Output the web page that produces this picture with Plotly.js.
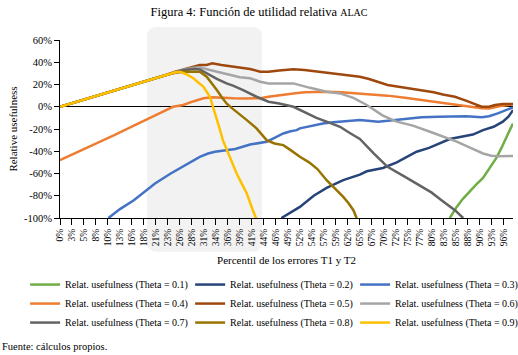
<!DOCTYPE html>
<html><head><meta charset="utf-8">
<script src="https://cdn.plot.ly/plotly-3.0.1.min.js"></script>
<style>html,body{margin:0;padding:0;background:#fff}#chart{width:518px;height:355px}</style>
</head><body><div id="chart"></div>
<script>
// Tick labels of the percentile axis
const xTickLabels = ['0%','3%','5%','8%','10%','13%','16%','18%','21%','23%','26%','28%','31%','34%','36%','39%','41%','44%','46%','49%','52%','54%','57%','59%','62%','65%','67%','70%','72%','75%','77%','80%','83%','85%','88%','90%','93%','96%'];
const xTickStep = 2.6;
const yTickVals = [60,40,20,0,-20,-40,-60,-80,-100];
const yTickText = ['60%','40%','20%','0%','-20%','-40%','-60%','-80%','-100%'];

// shared rising segment (Theta 0.5 - 0.9)
const risingX = [0,4,8,12,16,20,23];
const risingY = [0,5,10,14.5,19.5,25,28.5];

const theta01X = [84.5,86,87.3,88.8,90.2,91.7,93.2,94.6,95.7,96.8,97.5,98.2];
const theta01Y = [-100,-90,-83,-76,-70,-64,-55,-46,-37,-28,-21,-15];

const theta02X = [48,50,52,55,57.8,61.4,65,66.5,70,73,77.3,80,84.5,87,89.5,91.7,94,96,97.2,98.2];
const theta02Y = [-100,-95,-90,-80,-73,-66,-61,-58,-55,-50,-40.4,-37,-29,-27,-25,-21,-18,-13.4,-9,-3];

const theta03X = [10.5,13,16,20.6,24,27.8,30.3,32.1,33.6,36,38,41.2,43,44.8,46.5,48.4,50,51.3,52,55,57,59.2,62,65,69,71,74,78.4,82,85.6,88,91.4,93,94.9,96.5,98.2];
const theta03Y = [-100,-92,-84,-69,-60,-51,-45,-42,-40.5,-39,-38,-34,-32.5,-31.4,-28,-24,-22,-21,-19.4,-17,-15,-14,-13,-12,-13.4,-12.5,-11,-9.5,-9,-8.3,-8.5,-9.5,-8.5,-6,-3.5,-0.5];

const theta04X = [0,4,8,12,16,19.5,22,24.5,26.7,29,31.1,33,35,37.6,40,43.4,45.2,47.5,50.6,53,57.8,61,65,69,71,74.8,78.4,82,85.6,88,91.4,93,94.3,96,98.2];
const theta04Y = [-48,-40.5,-33,-25,-17,-10.4,-5,0,1.6,5,7.6,8.5,8,7.6,7.5,7.6,9,10.5,12,13,13.5,13,12,10.6,10,8,6,4,1.6,0,-1.4,-1.5,-0.5,1,2];

const theta05TailX = [25,27,29,30.3,31.8,33,35,38.3,41.2,43.4,45.2,47.5,50.6,53,55,57.8,61,65,67,69,71,74.8,78.4,81,83,85.6,88,90,91.4,93,94.3,96,98.2];
const theta05TailY = [31.5,34,36,37.5,37.5,39,37.5,36,34,31.5,31.5,32.5,33.6,33,32,30.6,29,27,25,22.5,19.5,17,15,13,11,9,5.5,2,0,0,1.6,2.5,2.5];

const theta06TailX = [25,27,29,30.3,32.5,34.7,36.8,39,41.2,43.4,45.2,48.4,50.6,54.2,57.8,60.7,63.6,66.5,70,73,76.5,80.2,83,86,89,91.7,93.5,95,98.2];
const theta06TailY = [31,33.5,35,35.5,33,31,28.5,26.5,25.6,22.5,21,21,21,17,13.5,12,8,1.6,-8,-13.4,-17,-22.5,-26.5,-31.4,-37,-42,-44,-44.5,-44.3];

const theta07TailX = [25,27,29,30.3,31.8,34,36.1,37.5,39.7,42.6,45.2,47.5,50.6,53,55.6,57.8,60.7,63,65,68,71,74.8,78.4,80.5,82.7,85.6,87.4];
const theta07TailY = [31,33,34,33.5,30,25,21,19,15,9,4.5,3,0,-5,-10,-13.4,-18,-24,-29,-42,-54,-63,-72,-77,-84,-93,-100];

const theta08TailX = [25,27,29,30.3,31.8,33,34,35,36.1,37.2,38.3,40.5,42.6,44.8,46.5,48.4,50,52,54,55.8,57.8,59.5,61.4,62.6,63.6,64.3];
const theta08TailY = [30.5,31.5,31.5,31.5,27,21,15,9,3,-1,-4.5,-12,-19.4,-30,-33,-34.5,-39,-45,-50,-56,-66,-73,-81,-87,-93,-100];

const theta09TailX = [25,26,27.5,28.9,30,31.1,32.5,33.2,34,34.7,35.3,36.8,38.3,39.5,40.5,41.8,42.5];
const theta09TailY = [31,31.5,29,25.6,22,18,9,0,-10,-21,-30,-45,-60,-70,-78,-93,-100];

const seriesNames = ['Relat. usefulness (Theta = 0.1)','Relat. usefulness (Theta = 0.2)','Relat. usefulness (Theta = 0.3)',
  'Relat. usefulness (Theta = 0.4)','Relat. usefulness (Theta = 0.5)','Relat. usefulness (Theta = 0.6)',
  'Relat. usefulness (Theta = 0.7)','Relat. usefulness (Theta = 0.8)','Relat. usefulness (Theta = 0.9)'];
const seriesColors = ['#70AD47','#264478','#4472C4','#ED7D31','#9E480E','#A5A5A5','#636363','#997300','#FFC000'];

const xs = [theta01X, theta02X, theta03X, theta04X,
  risingX.concat(theta05TailX), risingX.concat(theta06TailX), risingX.concat(theta07TailX),
  risingX.concat(theta08TailX), risingX.concat(theta09TailX)];
const ys = [theta01Y, theta02Y, theta03Y, theta04Y,
  risingY.concat(theta05TailY), risingY.concat(theta06TailY), risingY.concat(theta07TailY),
  risingY.concat(theta08TailY), risingY.concat(theta09TailY)];

const SERIF = '"Liberation Serif", "Times New Roman", serif';
const traces = seriesNames.map((n, i) => ({
  type: 'scatter', mode: 'lines', name: n, x: xs[i], y: ys[i],
  line: {color: seriesColors[i], width: 2.5}
}));

const tickVals = xTickLabels.map((_, i) => i * xTickStep);

const rx = 0.022, ry = 0.056, sx0 = 0.192, sx1 = 0.446, sy0 = -0.19, sy1 = 1.073;
const shadePath = `M${sx0+rx},${sy1} L${sx1-rx},${sy1} Q${sx1},${sy1} ${sx1},${sy1-ry} L${sx1},${sy0+ry} Q${sx1},${sy0} ${sx1-rx},${sy0} L${sx0+rx},${sy0} Q${sx0},${sy0} ${sx0},${sy0+ry} L${sx0},${sy1-ry} Q${sx0},${sy1} ${sx0+rx},${sy1} Z`;

const layout = {
  width: 518, height: 355,
  margin: {l: 60, r: 5, t: 40, b: 137, autoexpand: false},
  paper_bgcolor: '#fff', plot_bgcolor: 'rgba(0,0,0,0)',
  font: {family: SERIF, color: '#000', size: 10},
  title: {text: 'Figura 4: Función de utilidad relativa <span style="font-size:10px">ALAC</span>',
    font: {family: SERIF, size: 12.5, color: '#000'},
    xref: 'container', yref: 'container', x: 0.5, xanchor: 'center', y: 1 - 12/355, yanchor: 'middle'},
  xaxis: {range: [0, 98.2], tickmode: 'array', tickvals: tickVals, ticktext: xTickLabels,
    tickangle: -90, tickfont: {family: SERIF, size: 9.5, color: '#000'},
    showline: true, linecolor: '#000', linewidth: 1, ticks: 'outside', ticklen: 6, tickcolor: '#000',
    showgrid: false, zeroline: false,
    title: {text: 'Percentil de los errores T1 y T2', font: {family: SERIF, size: 11, color: '#000'}, standoff: 11}},
  yaxis: {range: [-100, 60], tickmode: 'array', tickvals: yTickVals, ticktext: yTickText,
    tickfont: {family: SERIF, size: 10.5, color: '#000'},
    showline: true, linecolor: '#000', linewidth: 1, ticks: 'outside', ticklen: 5, tickcolor: '#000',
    showgrid: false, zeroline: true, zerolinecolor: '#000', zerolinewidth: 1,
    title: {text: 'Relative usefulness', font: {family: SERIF, size: 11, color: '#000'}, standoff: 4}},
  showlegend: true,
  legend: {orientation: 'h', x: -0.077, xanchor: 'left', y: -0.2925, yanchor: 'top',
    entrywidth: 120, entrywidthmode: 'pixels', traceorder: 'normal',
    font: {family: SERIF, size: 10, color: '#000'}, bgcolor: 'rgba(0,0,0,0)'},
  shapes: [{type: 'path', xref: 'paper', yref: 'paper', layer: 'below', path: shadePath,
    fillcolor: '#F2F2F2', line: {width: 0}}],
  annotations: [{text: 'Fuente: cálculos propios.', xref: 'paper', yref: 'paper', showarrow: false,
    x: -60/453, xanchor: 'left', y: (218-346)/178, yanchor: 'middle',
    font: {family: SERIF, size: 10.5, color: '#000'}}]
};

Plotly.newPlot('chart', traces, layout, {staticPlot: true, displayModeBar: false});
</script>
</body></html>
